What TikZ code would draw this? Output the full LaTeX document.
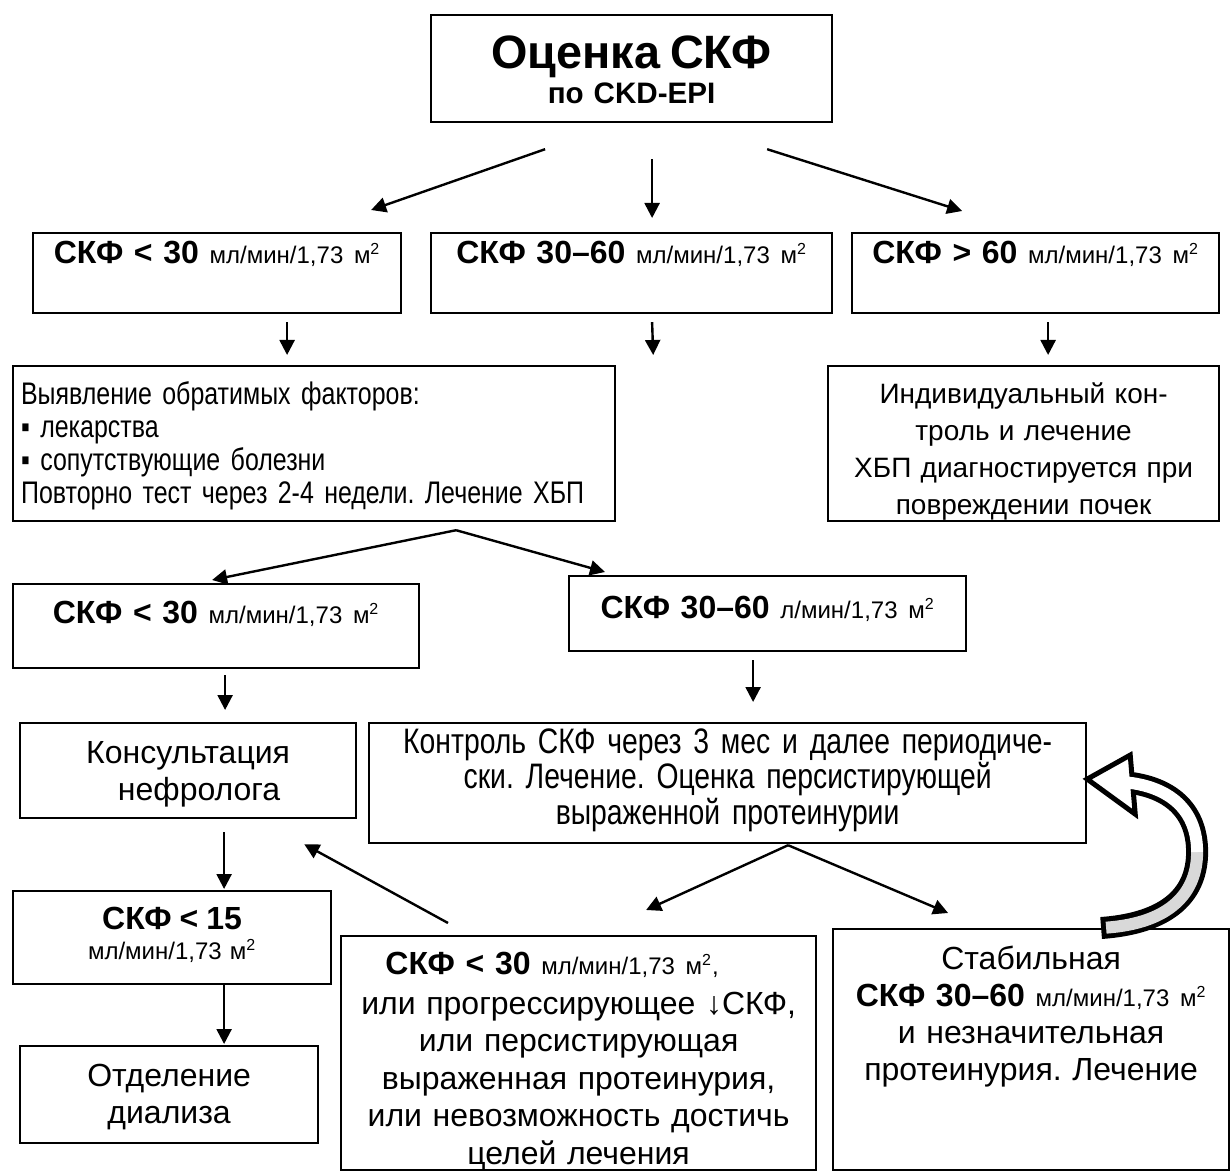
\documentclass[tikz,border=0pt]{standalone}
\usepackage{fontspec}
\setmainfont{Liberation Sans}
\newfontfamily\narrowfont[FakeStretch=0.8, WordSpace=0.7]{Liberation Sans}
\usetikzlibrary{arrows.meta,calc}
\frenchspacing

\newcommand{\skfhead}{\fontsize{16}{18.5}\selectfont\bfseries}
\newcommand{\skfunit}{\fontsize{12}{14}\selectfont}

\tikzset{
  box/.style={draw, line width=1.1pt, inner xsep=0pt, inner ysep=0pt,
    anchor=north west, align=center, font=\fontsize{16}{18.5}\selectfont},
  arr/.style={line width=1.2pt, -{Triangle[length=7.5pt,width=7.5pt]}}
}

\begin{document}
\begin{tikzpicture}[x=0.5pt, y=-0.5pt]
    \useasboundingbox (0,0) rectangle (1230,1171);

    % Start
    \node[box, text width=200.5pt, text height=26.5pt, text depth=27pt,
      font=\fontsize{14.8}{17.5}\selectfont\bfseries] (top) at (430,14)
      {{\fontsize{23.4}{17.5}\selectfont Оценка СКФ}\\по CKD-EPI};

    % First split
    \node[box, text width=184pt, text height=15pt, text depth=25pt] (lowA) at (32,232)
      {{\skfhead СКФ < 30} {\skfunit мл/мин/1,73 м\textsuperscript{2}}};
    \node[box, text width=200.5pt, text height=15pt, text depth=25pt] (midB) at (430,232)
      {{\skfhead СКФ 30–60} {\skfunit мл/мин/1,73 м\textsuperscript{2}}};
    \node[box, text width=183.5pt, text height=15pt, text depth=25pt] (highC) at (851,232)
      {{\skfhead СКФ > 60} {\skfunit мл/мин/1,73 м\textsuperscript{2}}};

    % Second level
    \node[box, align=left, inner xsep=4pt, text width=293pt, text height=19pt, text depth=58.5pt,
      font=\narrowfont\fontsize{15.6}{16.5}\selectfont] (check) at (12,365)
      {Выявление обратимых факторов:\\▪ лекарства\\▪ сопутствующие болезни\\Повторно тест через 2-4 недели. Лечение ХБП};
    \node[box, text width=195.5pt, text height=18.5pt, text depth=59pt,
      font=\fontsize{14}{18.5}\selectfont] (indiv) at (827,365)
      {Индивидуальный кон-\\троль и лечение\\ХБП диагностируется при\\повреждении почек};

    % After retest
    \node[box, text width=203pt, text height=19.5pt, text depth=22.5pt] (lowF) at (12,583)
      {{\skfhead СКФ < 30} {\skfunit мл/мин/1,73 м\textsuperscript{2}}};
    \node[box, text width=198.5pt, text height=21pt, text depth=16.5pt] (midG) at (568,575)
      {{\skfhead СКФ 30–60} {\skfunit л/мин/1,73 м\textsuperscript{2}}};

    \node[box, text width=168pt, text height=20pt, text depth=27.5pt] (nephro) at (19,722)
      {Консультация\\\hspace*{11pt}нефролога};
    \node[box, text width=358.5pt, text height=15pt, text depth=45pt,
      font=\narrowfont\fontsize{17.7}{17.75}\selectfont] (control) at (368,722)
      {Контроль СКФ через 3 мес и далее периодиче-\\ски. Лечение. Оценка персистирующей\\выраженной протеинурии};

    % Left column
    \node[box, text width=159pt, text height=19pt, text depth=27.5pt,
      font=\fontsize{12}{15}\selectfont] (lowJ) at (12,890)
      {{\skfhead СКФ < 15}\\мл/мин/1,73 м\textsuperscript{2}};
    \node[box, text width=149pt, text height=20pt, text depth=28.5pt] (dialysis) at (19,1045)
      {Отделение\\диализа};

    % Outcomes of control
    \node[box, text width=237.5pt, text height=19pt, text depth=98pt,
      font=\fontsize{16}{18.75}\selectfont] (refer) at (340,935)
      {{\skfhead СКФ < 30} {\skfunit мл/мин/1,73 м\textsuperscript{2},}\rule{26.5pt}{0pt}\\[1.25pt]
       или прогрессирующее ↓СКФ,\\или персистирующая\\выраженная протеинурия,\\или невозможность достичь\\целей лечения};
    \node[box, text width=198pt, text height=20pt, text depth=100.5pt] (stable) at (832,928)
      {Стабильная\\{\skfhead СКФ 30–60} {\skfunit мл/мин/1,73 м\textsuperscript{2}}\\и незначительная\\протеинурия. Лечение};

    % Arrows from the start
    \draw[arr] ($(top.south)+(-86.5,26)$) -- ($(lowA.north)+(154,-22)$);
    \draw[arr] ($(top.south)+(20.5,36)$) -- ($(midB.north)+(20.5,-14)$);
    \draw[arr] ($(top.south)+(135.5,26)$) -- ($(highC.north)+(-73.5,-21)$);

    % Down to second level
    \draw[arr] ($(lowA.south)+(70,8)$) -- ($(check.north)+(-27,-10)$);
    \draw[arr] ($(midB.south)+(20.5,8)$) -- ($(check.north east)+(37,-10)$);
    \draw[arr] ($(highC.south)+(12.5,8)$) -- ($(indiv.north)+(24.5,-10)$);

    % Retest split
    \draw[arr] ($(check.south)+(142,8)$) -- ($(lowF.north)+(-4,-3)$);
    \draw[arr] ($(check.south)+(142,8)$) -- ($(midG.north west)+(37,-3)$);

    \draw[arr] ($(lowF.south)+(9,6)$) -- ($(nephro.north)+(37,-12)$);
    \draw[arr] ($(midG.south)+(-14.5,8)$) -- ($(control.north)+(25.5,-20)$);

    \draw[arr] ($(nephro.south)+(36,13)$) -- ($(lowJ.north)+(52,-1)$);
    \draw[arr] ($(lowJ.south)+(52,0)$) -- ($(dialysis.north)+(55,-1)$);

    % Control split
    \draw[arr] ($(control.south)+(60.5,1)$) -- ($(refer.north)+(67.5,-25)$);
    \draw[arr] ($(control.south)+(60.5,1)$) -- ($(stable.north)+(-83,-15)$);
    \draw[arr] ($(refer.north west)+(108,-12)$) -- ($(nephro.south east)+(-53,25)$);

    % Curved block arrow back to control
    \coordinate (bendS) at ($(stable.north)+(70,0)$);
    \coordinate (bendM) at ($(bendS)+(96,-76)$);
    \coordinate (bendH) at ($(control.east)+(45,0)$);
    \coordinate (bendE) at ($(control.east)+(0,-4)$);
    \draw[line width=11pt]
      (bendS) .. controls +(70,-5) and +(0,40) .. (bendM)
              .. controls +(0,-40) and +(40,6) .. (bendH);
    \draw[line width=2.5pt, fill=white, line join=miter]
      (bendE) -- +(43,-24) -- +(48,35) -- cycle;
    \draw[line width=6pt, gray!30, shorten <=2.5pt]
      (bendS) .. controls +(70,-5) and +(0,40) .. (bendM);
    \draw[line width=6pt, white]
      (bendM) .. controls +(0,-40) and +(40,6) .. (bendH) -- ++(-10,-1);
  \end{tikzpicture}
\end{document}
